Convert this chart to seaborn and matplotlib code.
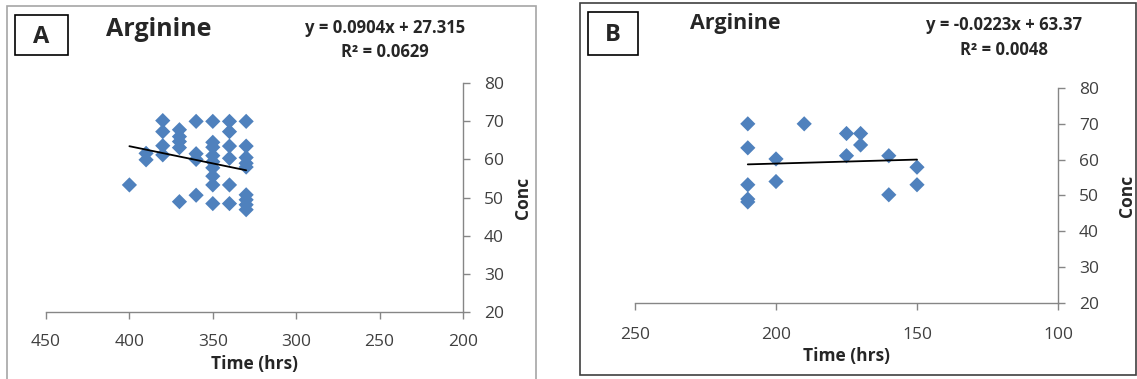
import matplotlib
matplotlib.use("Agg")
import matplotlib.pyplot as plt
import seaborn as sns
import pandas as pd
from matplotlib.patches import Rectangle

# ---------------- data ----------------
a_time = [400,
          390, 390,
          380, 380, 380, 380,
          370, 370, 370, 370, 370,
          360, 360, 360, 360,
          350, 350, 350, 350, 350, 350, 350, 350, 350,
          340, 340, 340, 340, 340, 340,
          330, 330, 330, 330, 330, 330, 330, 330, 330]
a_conc = [53.3,
          61.6, 59.9,
          70.2, 67.3, 63.6, 61.2,
          67.8, 66.0, 64.7, 63.1, 48.9,
          70.0, 61.5, 60.0, 50.6,
          70.0, 64.5, 63.2, 61.0, 59.4, 57.8, 55.6, 53.3, 48.4,
          70.0, 67.3, 63.5, 60.3, 53.3, 48.4,
          70.0, 63.5, 60.5, 59.0, 58.0, 50.7, 49.4, 48.1, 46.8]

b_time = [210, 210, 210, 210, 210, 200, 200, 190, 175, 175, 170, 170, 160, 160, 150, 150]
b_conc = [70.0, 63.3, 53.0, 49.0, 48.2, 60.2, 53.9, 70.0, 67.3, 61.1, 67.3, 64.1, 61.1, 50.2, 57.9, 53.0]

a_fit = {"slope": 0.0904, "intercept": 27.315, "r2": 0.0629, "x_range": [400, 330]}
b_fit = {"slope": -0.0223, "intercept": 63.37, "r2": 0.0048, "x_range": [210, 150]}

a_xticks = [450, 400, 350, 300, 250, 200]
b_xticks = [250, 200, 150, 100]
y_ticks = [20, 30, 40, 50, 60, 70, 80]

panel_letters = ["A", "B"]
titles = ["Arginine", "Arginine"]
eq_a = ["y = 0.0904x + 27.315", "R\u00b2 = 0.0629"]
eq_b = ["y = -0.0223x + 63.37", "R\u00b2 = 0.0048"]

# ---------------- figure ----------------
W, H = 1137, 379
sns.set_theme(style="white")
plt.rcParams['font.family'] = ['Open Sans', 'DejaVu Sans']

fig = plt.figure(figsize=(W / 100, H / 100), dpi=100)
fig.patch.set_facecolor("white")


def fx(px):
    return px / W


def fy(py):
    return 1 - py / H


def rect_px(x0, y0, x1, y1, **kw):
    fig.add_artist(Rectangle((fx(x0), fy(y1)), (x1 - x0) / W, (y1 - y0) / H,
                             transform=fig.transFigure, fill=False, **kw))


# panel frames
rect_px(7, 6, 536, 400, ec="#a6a6a6", lw=1.2)
rect_px(580, 3, 1136, 375, ec="#404040", lw=1.2)

# panel letter boxes
rect_px(15, 15, 68, 55, ec="black", lw=1.2)
rect_px(588, 12, 638, 55, ec="black", lw=1.2)
fig.text(fx(41.5), fy(37), panel_letters[0], ha="center", va="center", fontsize=17, fontweight="bold")
fig.text(fx(613), fy(35), panel_letters[1], ha="center", va="center", fontsize=17, fontweight="bold")

blue = "#4F81BD"
axcol = "#868686"


def make_ax(x0, x1, y80, y20, xlim, xticks, time, conc, fit, xpad, xlabpad, ylabpad):
    ax = fig.add_axes([fx(x0), fy(y20), (x1 - x0) / W, (y20 - y80) / H])
    df = pd.DataFrame({"Time (hrs)": time, "Conc": conc})
    sns.scatterplot(data=df, x="Time (hrs)", y="Conc", marker="D", s=60,
                    color=blue, edgecolor="none", ax=ax, zorder=3)
    xr = fit["x_range"]
    line_df = pd.DataFrame({"x": xr, "y": [fit["slope"] * v + fit["intercept"] for v in xr]})
    sns.lineplot(data=line_df, x="x", y="y", color="black", lw=1.3, ax=ax, zorder=4)
    ax.set_xlim(*xlim)
    ax.set_ylim(20, 80)
    ax.set_xticks(xticks)
    ax.set_yticks(y_ticks)
    ax.set_facecolor("none")
    for s in ["top", "left"]:
        ax.spines[s].set_visible(False)
    for s in ["right", "bottom"]:
        ax.spines[s].set_color(axcol)
        ax.spines[s].set_linewidth(1.0)
    ax.yaxis.tick_right()
    ax.yaxis.set_label_position("right")
    ax.tick_params(axis="both", which="major", direction="out", length=5, width=1.0,
                   color=axcol, labelsize=12.5, labelcolor="#404040",
                   bottom=True, right=True, left=False, top=False)
    ax.tick_params(axis="x", pad=xpad)
    ax.tick_params(axis="y", pad=10)
    ax.set_xlabel("Time (hrs)", fontsize=12.5, fontweight="bold", labelpad=xlabpad)
    ax.set_ylabel("Conc", fontsize=12.5, fontweight="bold", rotation=90, labelpad=ylabpad)
    ax.grid(False)
    return ax


ax_a = make_ax(46, 463, 83.3, 311.7, (450, 200), a_xticks, a_time, a_conc, a_fit, 11, 4, 7)
ax_b = make_ax(635, 1058, 88, 303, (250, 100), b_xticks, b_time, b_conc, b_fit, 12, 3, 14)

# titles
fig.text(fx(106), fy(30), titles[0], ha="left", va="center", fontsize=18, fontweight="bold")
fig.text(fx(690), fy(24), titles[1], ha="left", va="center", fontsize=15.5, fontweight="bold")

# equations
fig.text(fx(385), fy(28), eq_a[0], ha="center", va="center", fontsize=12, fontweight="bold")
fig.text(fx(385), fy(52), eq_a[1], ha="center", va="center", fontsize=12, fontweight="bold")
fig.text(fx(1004), fy(25), eq_b[0], ha="center", va="center", fontsize=12, fontweight="bold")
fig.text(fx(1004), fy(50), eq_b[1], ha="center", va="center", fontsize=12, fontweight="bold")

fig.savefig("out.png", dpi=100, facecolor="white")
